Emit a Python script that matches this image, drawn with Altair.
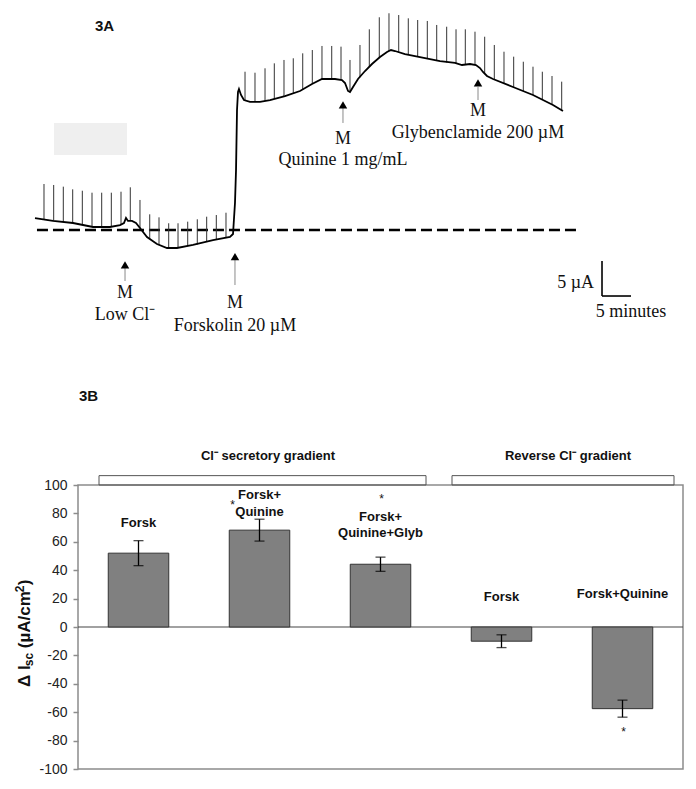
import altair as alt
import pandas as pd

# ---------------- Panel 3A : Isc trace (time in min, current in µA above dashed baseline)
trace_t = [0.0, 3.10, 6.55, 10.0, 12.93, 14.66, 15.34, 15.69, 16.03, 16.72, 17.41, 18.10, 19.31,
           21.03, 22.76, 24.48, 27.24, 30.69, 33.62, 34.14, 34.48, 34.66, 34.83, 35.0, 35.17,
           35.52, 36.03, 37.07, 38.79, 40.52, 43.10, 45.69, 47.76, 49.48, 51.72, 52.93, 53.45,
           53.97, 54.31, 54.83, 55.69, 56.90, 58.10, 59.48, 60.69, 61.38, 62.07, 63.79, 66.38,
           69.83, 72.41, 73.62, 75.0, 76.03, 76.72, 77.24, 77.93, 78.97, 82.41, 85.86, 89.31, 91.03]
trace_i = [1.71, 1.29, 1.0, 0.43, 0.43, 0.71, 1.0, 1.71, 1.29, 1.29, 1.0, 0.29, -1.0,
           -2.0, -2.57, -2.57, -2.14, -1.43, -1.0, -0.57, 3.86, 8.57, 17.14, 19.71, 20.14,
           19.29, 18.57, 18.29, 18.29, 18.57, 19.14, 19.86, 20.86, 21.57, 21.57, 21.43, 21.0,
           19.86, 19.71, 20.43, 21.57, 22.71, 23.71, 24.71, 25.43, 25.71, 25.57, 25.14, 24.71,
           24.14, 23.86, 23.57, 23.71, 23.57, 23.14, 22.57, 22.0, 21.57, 20.43, 19.29, 17.86, 17.0]

pulse_t = [1.55, 3.22, 4.88, 6.50, 8.16, 9.83, 11.5, 13.16, 14.83, 16.43, 18.10, 19.78, 21.38,
           23.05, 24.66, 26.33, 27.98, 29.6, 31.26, 32.93, 36.21, 37.93, 39.66, 41.26, 42.93,
           44.53, 46.16, 47.81, 49.48, 51.16, 52.76, 54.31, 56.03, 57.64, 59.36, 61.03, 62.71,
           64.36, 65.98, 67.64, 69.26, 70.98, 72.59, 74.19, 75.86, 77.53, 79.19, 80.86, 82.53,
           84.19, 85.86, 87.47, 89.14, 90.81]
pulse_base = [1.5, 1.29, 1.14, 1.0, 0.71, 0.43, 0.43, 0.57, 0.79, 1.29, 0.29, -1.21, -2.14,
              -2.57, -2.57, -2.29, -2.07, -1.64, -1.36, -1.07, 18.57, 18.29, 18.43, 18.71, 19.07,
              19.57, 20.0, 20.86, 21.57, 21.57, 21.43, 19.71, 21.79, 23.36, 24.64, 25.57, 25.36,
              25.07, 24.79, 24.5, 24.14, 23.93, 23.79, 23.64, 23.57, 22.29, 21.5, 20.93, 20.43,
              19.86, 19.29, 18.64, 17.93, 17.14]
pulse_top = [6.57, 6.43, 6.19, 5.81, 5.61, 5.33, 5.33, 5.33, 5.47, 6.1, 4.29, 2.24, 1.81,
             0.96, 0.96, 1.19, 1.53, 1.9, 2.14, 2.47, 22.61, 22.47, 23.1, 23.81, 24.29,
             24.53, 25.24, 25.71, 26.29, 26.29, 26.19, 24.29, 26.43, 28.67, 30.39, 30.96, 30.71,
             30.24, 30.0, 29.86, 29.29, 29.04, 28.67, 28.67, 28.33, 27.61, 26.43, 25.47, 24.76,
             24.04, 23.33, 22.61, 22.0, 21.19]

baseline_t = [0.34, 93.45]

ann_label = ["Low Cl⁻", "Forskolin 20 µM", "Quinine 1 mg/mL", "Glybenclamide 200 µM"]
ann_t = [15.52, 34.48, 53.1, 76.38]
ann_tri = [-4.99, -3.8, 17.87, 21.01]
ann_line_top = [-5.43, -4.29, 17.43, 20.43]
ann_line_bot = [-7.29, -7.86, 15.29, 18.57]
ann_m = [-9.07, -10.36, 13.0, 17.07]
ann_text = [-12.14, -13.71, 10.0, 13.86]

blot_t = [3.28, 15.86]
blot_i = [10.71, 15.29]

scalebar_t = [97.76, 102.76]   # 5 minutes
scalebar_i = [-4.43, -9.43]    # 5 µA

# ---------------- Panel 3B : bar chart
cats = ["Forsk", "Forsk+Quinine", "Forsk+Quinine+Glyb", "Forsk (reverse)", "Forsk+Quinine (reverse)"]
means = [52.0, 68.2, 44.2, -10.0, -57.5]
sems = [8.8, 7.7, 5.0, 4.5, 6.0]

bar_label_cat = [0, 1, 1, 2, 2, 3, 4]
bar_label_text = ["Forsk", "Forsk+", "Quinine", "Forsk+", "Quinine+Glyb", "Forsk", "Forsk+Quinine"]
bar_label_y = [73.1, 92.8, 80.8, 77.3, 66.1, 21.0, 23.1]

star_cat = [1, 2, 4]
star_y = [85.8, 90.0, -74.1]
star_dx = [-27, 1, 1]

group_names = ["Cl⁻ secretory gradient", "Reverse Cl⁻ gradient"]

# ---------------- styling
SERIF = "Liberation Serif"
SANS = "Liberation Sans"

XT = alt.Scale(domain=[0, 100], range=[27, 607], nice=False, zero=False)
YT = alt.Scale(domain=[-10, 30], range=[292, 12], nice=False, zero=False)


def xt(f):
    return alt.X(f, type="quantitative", scale=XT, axis=None)


def yt(f):
    return alt.Y(f, type="quantitative", scale=YT, axis=None)


trace_df = pd.DataFrame({"t": trace_t, "i": trace_i})
pulse_df = pd.DataFrame({"t": pulse_t, "base": pulse_base, "top": pulse_top})
base_df = pd.DataFrame({"t": baseline_t, "i": [0, 0]})
ann_df = pd.DataFrame({"t": ann_t, "tri": ann_tri, "l1": ann_line_top, "l2": ann_line_bot,
                       "m": ann_m, "ty": ann_text, "label": ann_label, "M": ["M"] * 4})
blot_df = pd.DataFrame({"t1": [blot_t[0]], "t2": [blot_t[1]], "i1": [blot_i[0]], "i2": [blot_i[1]]})
sb_df = pd.DataFrame({"t1": [scalebar_t[0]], "t2": [scalebar_t[1]],
                      "i1": [scalebar_i[0]], "i2": [scalebar_i[1]]})

blot = alt.Chart(blot_df).mark_rect(color="#efefef").encode(
    x=xt("t1"), x2="t2", y=yt("i1"), y2="i2")
baseline = alt.Chart(base_df).mark_line(color="black", strokeWidth=2.6, strokeDash=[11, 5]).encode(
    x=xt("t"), y=yt("i"))
pulses = alt.Chart(pulse_df).mark_rule(color="#333333", strokeWidth=1).encode(
    x=xt("t"), y=yt("base"), y2="top")
trace = alt.Chart(trace_df).mark_line(color="black", strokeWidth=1.8).encode(
    x=xt("t"), y=yt("i"))
tri = alt.Chart(ann_df).mark_point(shape="triangle-up", filled=True, size=72, color="black",
                                   opacity=1).encode(x=xt("t"), y=yt("tri"))
stem = alt.Chart(ann_df).mark_rule(color="#8a8a8a", strokeWidth=1).encode(
    x=xt("t"), y=yt("l1"), y2="l2")
mtext = alt.Chart(ann_df).mark_text(font=SERIF, fontSize=18, color="#111", baseline="middle").encode(
    x=xt("t"), y=yt("m"), text="M")
ltext = alt.Chart(ann_df).mark_text(font=SERIF, fontSize=18, color="#111", baseline="middle").encode(
    x=xt("t"), y=yt("ty"), text="label")
sb_v = alt.Chart(sb_df).mark_rule(color="black", strokeWidth=1.6).encode(
    x=xt("t1"), y=yt("i1"), y2="i2")
sb_h = alt.Chart(sb_df).mark_rule(color="black", strokeWidth=1.6).encode(
    x=xt("t1"), x2="t2", y=yt("i2"))
sb_ua = alt.Chart(sb_df).mark_text(font=SERIF, fontSize=18, color="#111", align="right",
                                   baseline="middle", dx=-8, dy=-13).encode(
    x=xt("t1"), y=yt("i2"), text=alt.value("5 µA"))
sb_min = alt.Chart(sb_df).mark_text(font=SERIF, fontSize=18, color="#111", align="center",
                                    baseline="middle", dy=16).encode(
    x=xt("t2"), y=yt("i2"), text=alt.value("5 minutes"))

top_group = alt.layer(blot, baseline, pulses, trace, stem, tri, mtext, ltext,
                      sb_v, sb_h, sb_ua, sb_min)

# ---------------- bottom
XB = alt.Scale(domain=cats, range=[70, 675], paddingInner=0.5, paddingOuter=0.25)
YB = alt.Scale(domain=[-100, 100], range=[761, 477], nice=False, zero=False)
YAX = alt.Axis(orient="left", offset=-70, values=list(range(-100, 101, 20)), domain=False,
               grid=False, tickSize=5, tickColor="#8c8c8c", tickWidth=1.5, labelFontSize=14,
               labelFont=SANS, labelColor="#222", labelPadding=6, title=None,
               labelExpr="datum.value + ''")


def xb(f):
    return alt.X(f, type="nominal", scale=XB, axis=None, sort=cats)


def yb(f):
    return alt.Y(f, type="quantitative", scale=YB, axis=YAX)


bar_df = pd.DataFrame({"cat": cats, "mean": means,
                       "lo": [m - s for m, s in zip(means, sems)],
                       "hi": [m + s for m, s in zip(means, sems)]})
lab_df = pd.DataFrame({"cat": [cats[k] for k in bar_label_cat], "text": bar_label_text,
                       "y": bar_label_y})
one = pd.DataFrame({"a": [0]})

frame = alt.Chart(one).mark_rect(fillOpacity=0, stroke="#8c8c8c", strokeWidth=1.5).encode(
    x=alt.value(70), x2=alt.value(675), y=alt.Y(datum=100, scale=YB, axis=YAX), y2=alt.datum(-100))
brack1 = alt.Chart(one).mark_rect(fillOpacity=0, stroke="#555", strokeWidth=1).encode(
    x=alt.value(91), x2=alt.value(418), y=alt.Y(datum=100, scale=YB, axis=YAX), y2=alt.datum(106.6))
brack2 = alt.Chart(one).mark_rect(fillOpacity=0, stroke="#555", strokeWidth=1).encode(
    x=alt.value(444), x2=alt.value(666), y=alt.Y(datum=100, scale=YB, axis=YAX), y2=alt.datum(106.6))
zero = alt.Chart(one).mark_rule(color="#444", strokeWidth=1.2).encode(
    x=alt.value(70), x2=alt.value(675), y=alt.Y(datum=0, scale=YB, axis=YAX))
bars = alt.Chart(bar_df).mark_bar(color="#808080", stroke="#333", strokeWidth=1).encode(
    x=xb("cat"), y=yb("mean"))
err = alt.Chart(bar_df).mark_rule(color="black", strokeWidth=1.3).encode(
    x=xb("cat"), y=yb("lo"), y2="hi")
cap_lo = alt.Chart(bar_df).mark_tick(color="black", size=10, thickness=1.3).encode(
    x=xb("cat"), y=yb("lo"))
cap_hi = alt.Chart(bar_df).mark_tick(color="black", size=10, thickness=1.3).encode(
    x=xb("cat"), y=yb("hi"))
labels = alt.Chart(lab_df).mark_text(font=SANS, fontWeight="bold", fontSize=13, color="#111",
                                     baseline="middle").encode(
    x=xb("cat"), y=yb("y"), text="text")
stars = []
for c, yv, dx in zip(star_cat, star_y, star_dx):
    sdf = pd.DataFrame({"cat": [cats[c]], "y": [yv]})
    stars.append(alt.Chart(sdf).mark_text(font=SANS, fontSize=12, color="#111", baseline="middle",
                                          dx=dx).encode(
        x=xb("cat"), y=yb("y"), text=alt.value("*")))
g1 = alt.Chart(one).mark_text(font=SANS, fontWeight="bold", fontSize=13, color="#111",
                              baseline="middle").encode(
    x=alt.value(260), y=alt.Y(datum=120.3, scale=YB, axis=YAX), text=alt.value(group_names[0]))
g2 = alt.Chart(one).mark_text(font=SANS, fontWeight="bold", fontSize=13, color="#111",
                              baseline="middle").encode(
    x=alt.value(560), y=alt.Y(datum=120.3, scale=YB, axis=YAX), text=alt.value(group_names[1]))

bottom_group = alt.layer(frame, brack1, brack2, zero, bars, err, cap_lo, cap_hi, labels, *stars, g1, g2)

# ---------------- panel letters and y-title pieces (pixel decorations)
deco = []
for txt, px, py in [("3A", 87, 18), ("3B", 71, 388)]:
    deco.append(alt.Chart(one).mark_text(font=SANS, fontWeight="bold", fontSize=15, color="#111",
                                         align="left", baseline="middle").encode(
        x=alt.value(px), y=alt.value(py), text=alt.value(txt)))

# (text, font size, baseline shift, advance incl. gaps)
pieces = [("Δ I", 17, 0, 20.8), ("sc", 12, 4, 18.0), ("(µA/cm", 17, 0, 56.0), ("2", 12, -5, 6.9), (")", 17, 0, 5.7)]
ycur = 679
for txt, fs, shift, w in pieces:
    deco.append(alt.Chart(one).mark_text(font=SANS, fontWeight="bold", fontSize=fs, color="#111",
                                         align="left", baseline="middle", angle=270).encode(
        x=alt.value(17 + shift), y=alt.value(ycur), text=alt.value(txt)))
    ycur -= w

chart = alt.layer(top_group, bottom_group, *deco).resolve_scale(
    x="independent", y="independent").properties(
    width=680, height=773, autosize=alt.AutoSizeParams(type="none"), padding=0,
    background="white").configure_view(strokeWidth=0)

chart.save("out.html", embed_options={"renderer": "svg", "actions": False})
